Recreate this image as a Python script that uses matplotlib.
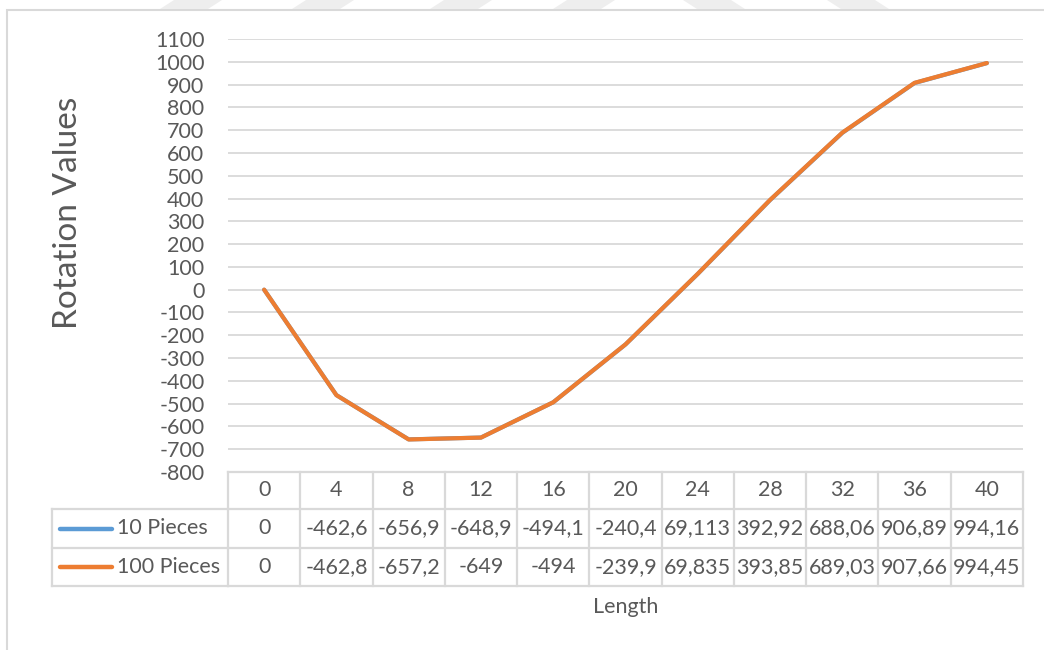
import matplotlib
matplotlib.use("Agg")
import matplotlib.pyplot as plt
import matplotlib.transforms as mtransforms
from matplotlib.patches import Polygon, Rectangle
from matplotlib.lines import Line2D

# data
lengths = [0, 4, 8, 12, 16, 20, 24, 28, 32, 36, 40]
pieces_10 = [0, -462.6, -656.9, -648.9, -494.1, -240.4, 69.113, 392.92, 688.06, 906.89, 994.16]
pieces_100 = [0, -462.8, -657.2, -649, -494, -239.9, 69.835, 393.85, 689.03, 907.66, 994.45]
series_names = ["10 Pieces", "100 Pieces"]
series_colors = ["#5B9BD5", "#ED7D31"]
y_ticks = list(range(-800, 1101, 100))

W, H = 1044, 650
TXT = "#595959"
GRID = "#D9D9D9"
FS = 15.5
plt.rcParams["font.family"] = ["Lato", "DejaVu Sans"]

fig = plt.figure(figsize=(W / 100, H / 100), dpi=100)


def fy(py):
    return 1 - py / H


def fx(px):
    return px / W


# plot area in pixels
left, right, top, bottom = 228, 1023, 39, 472
ax = fig.add_axes([fx(left), fy(bottom), fx(right) - fx(left), fy(top) - fy(bottom)])

n = len(lengths)
xs = list(range(n))
ax.set_xlim(-0.5, n - 0.5)
ax.set_ylim(-800, 1100)
ax.set_yticks(y_ticks)
ax.set_yticklabels([str(t) for t in y_ticks], fontsize=FS, color=TXT)
ax.set_xticks([])
ax.tick_params(axis="y", length=0, pad=17)
for s in ax.spines.values():
    s.set_visible(False)
for t in y_ticks:
    ax.axhline(t, color=GRID, lw=1.3, zorder=0)

for vals, c in zip([pieces_10, pieces_100], series_colors):
    ax.plot(xs, vals, color=c, lw=3, solid_capstyle="round", solid_joinstyle="round", zorder=3)

# data table under the axis
tr = mtransforms.blended_transform_factory(ax.transData, fig.transFigure)
rows_y = [472, 509, 548, 586]
leg_left = 52
lkw = dict(color=GRID, lw=1.6, clip_on=False)
# horizontal lines
ax.add_line(Line2D([-0.5, n - 0.5], [fy(rows_y[0])] * 2, transform=tr, **lkw))
for py in rows_y[1:]:
    fig.add_artist(Line2D([fx(leg_left), fx(left)], [fy(py)] * 2, **lkw))
    ax.add_line(Line2D([-0.5, n - 0.5], [fy(py)] * 2, transform=tr, **lkw))
# vertical lines
for k in range(n + 1):
    ax.add_line(Line2D([k - 0.5] * 2, [fy(rows_y[0]), fy(rows_y[-1])], transform=tr, **lkw))
fig.add_artist(Line2D([fx(leg_left)] * 2, [fy(rows_y[1]), fy(rows_y[-1])], **lkw))


def fmt(v):
    if float(v).is_integer():
        return str(int(v))
    return str(v).replace(".", ",")


for i, L in enumerate(lengths):
    ax.text(i, fy((rows_y[0] + rows_y[1]) / 2), str(L), transform=tr, ha="center",
            va="center", fontsize=FS, color=TXT)
for r, (vals, name, c) in enumerate(zip([pieces_10, pieces_100], series_names, series_colors)):
    yc = fy((rows_y[r + 1] + rows_y[r + 2]) / 2)
    for i, v in enumerate(vals):
        ax.text(i, yc, fmt(v), transform=tr, ha="center", va="center", fontsize=FS, color=TXT)
    fig.add_artist(Line2D([fx(60), fx(112)], [yc, yc], color=c, lw=3.2, solid_capstyle="round"))
    fig.text(fx(117), yc, name, ha="left", va="center", fontsize=FS, color=TXT)

# axis titles
fig.text(fx((left + right) / 2), fy(607), "Length", ha="center", va="center", fontsize=FS, color=TXT)
fig.text(fx(68), fy(213), "Rotation Values", ha="center", va="center", rotation=90,
         fontsize=24, color=TXT)

# chart frame and faint stripes at the top
fig.add_artist(Rectangle((fx(7), fy(H + 5)), 1.2, fy(10) - fy(H + 5), fill=False,
                         edgecolor=GRID, lw=1.5))
for x0 in [160, 292, 430, 553]:
    fig.add_artist(Polygon([(fx(x0), fy(9)), (fx(x0 + 48), fy(9)), (fx(x0 + 62), fy(0)),
                            (fx(x0 + 14), fy(0))], closed=True, color="#EEEEEE", lw=0))
for x0 in [683, 827]:
    fig.add_artist(Polygon([(fx(x0 + 14), fy(9)), (fx(x0 + 62), fy(9)), (fx(x0 + 48), fy(0)),
                            (fx(x0), fy(0))], closed=True, color="#EEEEEE", lw=0))

fig.savefig("out.png", dpi=100)
